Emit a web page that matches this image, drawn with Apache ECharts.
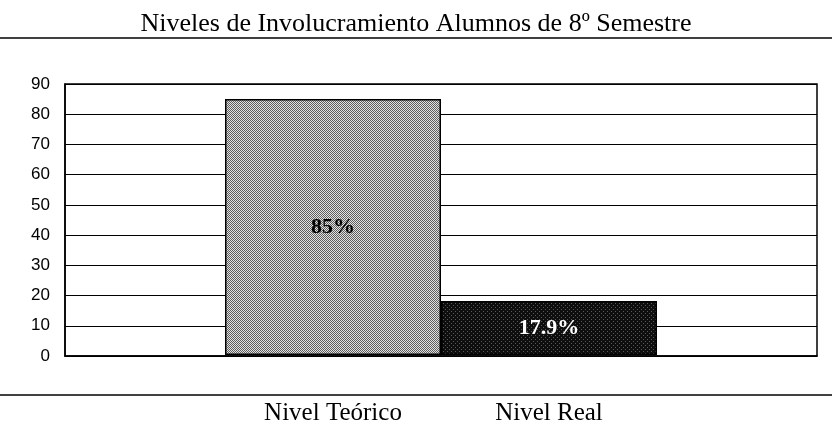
<!DOCTYPE html>
<html>
<head>
<meta charset="utf-8">
<script src="https://cdn.jsdelivr.net/npm/echarts@6/dist/echarts.min.js"></script>
<style>
  html, body { margin: 0; padding: 0; background: #fff; }
  #chart { width: 832px; height: 426px; }
</style>
</head>
<body>
<div id="chart"></div>
<script>
// Chart content
const titleText = 'Niveles de Involucramiento Alumnos de 8º Semestre';
const categories = ['Nivel Teórico', 'Nivel Real'];
const values = [85, 17.9];
const yMin = 0;
const yMax = 90;
const yStep = 10;

// Small repeating textures for the bar fills
function makePattern(size, cells) {
  const c = document.createElement('canvas');
  c.width = size; c.height = size;
  const ctx = c.getContext('2d');
  for (let y = 0; y < size; y++) {
    for (let x = 0; x < size; x++) {
      ctx.fillStyle = cells[y][x];
      ctx.fillRect(x, y, 1, 1);
    }
  }
  return c;
}
const L = '#e2e2e2', D = '#5e5e5e';
const lightPattern = makePattern(2, [[D, L], [L, D]]);
const K = '#0e0e0e', G = '#5a5a5a';
const darkPattern = makePattern(4, [
  [K, K, K, K],
  [K, G, K, K],
  [K, K, K, K],
  [K, K, K, G]
]);
const fills = [
  { image: lightPattern, repeat: 'repeat' },
  { image: darkPattern, repeat: 'repeat' }
];
const labelColors = ['#000', '#fff'];

const chart = echarts.init(document.getElementById('chart'), null, { renderer: 'canvas' });

const option = {
  backgroundColor: '#fff',
  animation: false,
  title: {
    text: titleText,
    left: 'center',
    top: 6,
    textStyle: {
      fontFamily: 'Liberation Serif',
      fontWeight: 'normal',
      fontSize: 26,
      color: '#000'
    }
  },
  graphic: [
    {
      type: 'line',
      shape: { x1: 0, y1: 38, x2: 832, y2: 38 },
      style: { stroke: '#000', lineWidth: 1.5 }
    },
    {
      type: 'line',
      shape: { x1: 0, y1: 395, x2: 832, y2: 395 },
      style: { stroke: '#000', lineWidth: 1.5 }
    }
  ],
  grid: [
    // frame with value axis and gridlines
    { left: 65, right: 15, top: 84, bottom: 70, show: true, borderColor: '#000', borderWidth: 1.5, containLabel: false },
    // band holding the two adjacent bars
    { left: 225, width: 432, top: 84, bottom: 70, containLabel: false }
  ],
  xAxis: [
    {
      gridIndex: 0,
      type: 'category',
      data: [''],
      axisLine: { show: true, lineStyle: { color: '#000', width: 1.5 } },
      axisTick: { show: false },
      axisLabel: { show: false }
    },
    {
      gridIndex: 1,
      type: 'category',
      data: categories,
      axisLine: { show: false },
      axisTick: { show: false },
      axisLabel: {
        margin: 46,
        fontFamily: 'Liberation Serif',
        fontSize: 25,
        color: '#000'
      }
    }
  ],
  yAxis: [
    {
      gridIndex: 0,
      type: 'value',
      min: yMin,
      max: yMax,
      interval: yStep,
      axisLine: { show: true, lineStyle: { color: '#000', width: 1.5 } },
      axisTick: { show: false },
      axisLabel: {
        margin: 15,
        fontFamily: 'Liberation Sans',
        fontSize: 17,
        color: '#000'
      },
      splitLine: { show: true, lineStyle: { color: '#000', width: 1 } }
    },
    {
      gridIndex: 1,
      type: 'value',
      min: yMin,
      max: yMax,
      interval: yStep,
      show: false,
      splitLine: { show: false }
    }
  ],
  series: [
    {
      type: 'bar',
      xAxisIndex: 1,
      yAxisIndex: 1,
      barWidth: '100%',
      barCategoryGap: 0,
      data: values.map((v, i) => ({
        value: v,
        itemStyle: { color: fills[i], borderColor: '#000', borderWidth: 1.5 },
        label: { color: labelColors[i] }
      })),
      label: {
        show: true,
        position: 'inside',
        formatter: p => p.value + '%',
        fontFamily: 'Liberation Serif',
        fontWeight: 'bold',
        fontSize: 22
      }
    }
  ]
};

chart.setOption(option);
</script>
</body>
</html>
